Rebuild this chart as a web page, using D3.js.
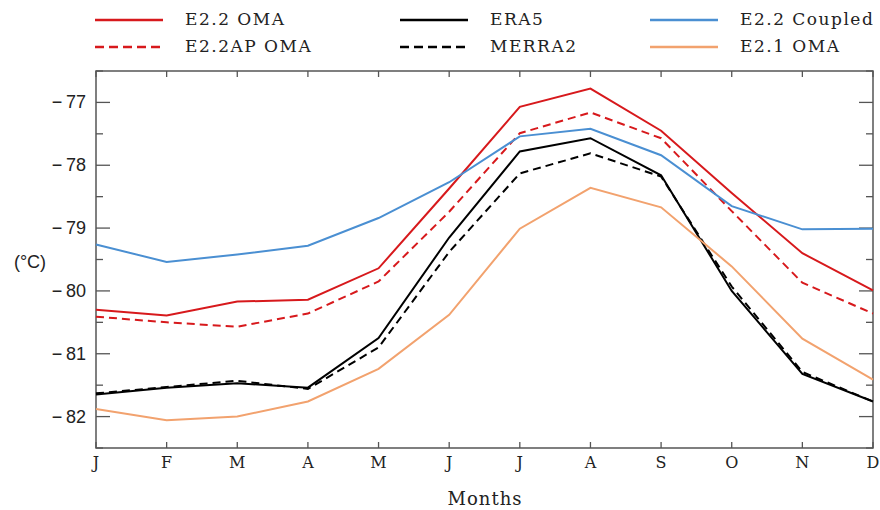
<!DOCTYPE html>
<html>
<head>
<meta charset="utf-8">
<script src="https://cdn.jsdelivr.net/npm/d3@7"></script>
<style>
  body { margin: 0; background: #fff; }
  .ser { font-family: "DejaVu Serif", serif; }
  .sans { font-family: "Liberation Sans", Arial, sans-serif; }
</style>
</head>
<body>
<svg id="chart" width="880" height="510"></svg>
<script>
var months = ['J', 'F', 'M', 'A', 'M', 'J', 'J', 'A', 'S', 'O', 'N', 'D'];
var yTicks = [-82, -81, -80, -79, -78, -77];

var e22oma     = [-80.30, -80.39, -80.17, -80.14, -79.64, -78.37, -77.07, -76.78, -77.45, -78.44, -79.40, -79.99];
var e22apoma   = [-80.41, -80.50, -80.57, -80.36, -79.85, -78.74, -77.49, -77.16, -77.57, -78.73, -79.87, -80.36];
var era5       = [-81.65, -81.54, -81.47, -81.54, -80.75, -79.15, -77.78, -77.57, -78.16, -80.00, -81.32, -81.76];
var merra2     = [-81.63, -81.53, -81.43, -81.56, -80.90, -79.38, -78.13, -77.81, -78.18, -79.93, -81.29, -81.76];
var e22coupled = [-79.26, -79.54, -79.42, -79.28, -78.84, -78.27, -77.54, -77.42, -77.84, -78.65, -79.02, -79.01];
var e21oma     = [-81.88, -82.06, -82.00, -81.76, -81.24, -80.38, -79.01, -78.36, -78.67, -79.61, -80.76, -81.41];

var series = [
    {name: 'E2.2 OMA',     values: e22oma,     color: '#d7191c', dash: null, col: 0, row: 0},
    {name: 'E2.2AP OMA',   values: e22apoma,   color: '#d7191c', dash: '8,5', col: 0, row: 1},
    {name: 'ERA5',         values: era5,       color: '#000000', dash: null, col: 1, row: 0},
    {name: 'MERRA2',       values: merra2,     color: '#000000', dash: '8,5', col: 1, row: 1},
    {name: 'E2.2 Coupled', values: e22coupled, color: '#4a8fd2', dash: null, col: 2, row: 0},
    {name: 'E2.1 OMA',     values: e21oma,     color: '#f2a26e', dash: null, col: 2, row: 1}
];

var margin = {top: 71, right: 7, bottom: 62, left: 96},
    width = 880 - margin.left - margin.right,
    height = 510 - margin.top - margin.bottom;

var svg = d3.select('#chart');
var g = svg.append('g').attr('transform', 'translate(' + margin.left + ',' + margin.top + ')');

var x = d3.scaleLinear().domain([0, 11]).range([0, width]);
var y = d3.scaleLinear().domain([-82.5, -76.5]).range([height, 0]);

var axisColor = '#555';

// frame
g.append('rect')
    .attr('width', width).attr('height', height)
    .attr('fill', 'none').attr('stroke', axisColor).attr('stroke-width', 1.5);

// ticks inside the frame
var minor = d3.range(-82.5, -76.49, 0.5);
g.selectAll('.ytl').data(minor).enter().append('line')
    .attr('x1', 0).attr('x2', function(d) { return Number.isInteger(d) ? 14 : 7; })
    .attr('y1', y).attr('y2', y)
    .attr('stroke', axisColor).attr('stroke-width', 1.3);
g.selectAll('.ytr').data(minor).enter().append('line')
    .attr('x1', width).attr('x2', function(d) { return width - (Number.isInteger(d) ? 14 : 7); })
    .attr('y1', y).attr('y2', y)
    .attr('stroke', axisColor).attr('stroke-width', 1.3);
g.selectAll('.xtb').data(d3.range(12)).enter().append('line')
    .attr('x1', x).attr('x2', x)
    .attr('y1', height).attr('y2', height - 6)
    .attr('stroke', axisColor).attr('stroke-width', 1.3);
g.selectAll('.xtt').data(d3.range(12)).enter().append('line')
    .attr('x1', x).attr('x2', x)
    .attr('y1', 0).attr('y2', 6)
    .attr('stroke', axisColor).attr('stroke-width', 1.3);

// tick labels
g.selectAll('.yl').data(yTicks).enter().append('text')
    .attr('class', 'sans')
    .attr('x', -10).attr('y', function(d) { return y(d) + 6; })
    .attr('text-anchor', 'end').attr('font-size', 18).attr('fill', '#222')
    .text(function(d) { return '\u2212\u2009' + Math.abs(d); });

g.selectAll('.xl').data(months).enter().append('text')
    .attr('class', 'ser')
    .attr('x', function(d, i) { return x(i); }).attr('y', height + 20)
    .attr('text-anchor', 'middle').attr('font-size', 16).attr('fill', '#222')
    .text(function(d) { return d; });

svg.append('text').attr('class', 'sans')
    .attr('x', 30).attr('y', 268).attr('text-anchor', 'middle')
    .attr('font-size', 18).attr('fill', '#222')
    .text('(\u00B0C)');

svg.append('text').attr('class', 'ser')
    .attr('x', 485).attr('y', 505).attr('text-anchor', 'middle')
    .attr('font-size', 18).attr('fill', '#222')
    .attr('letter-spacing', 1)
    .text('Months');

// lines
var line = d3.line()
    .x(function(d, i) { return x(i); })
    .y(function(d) { return y(d); });

g.selectAll('.series').data(series).enter().append('path')
    .attr('d', function(d) { return line(d.values); })
    .attr('fill', 'none')
    .attr('stroke', function(d) { return d.color; })
    .attr('stroke-width', 2)
    .attr('stroke-dasharray', function(d) { return d.dash; });

// legend
var colX = [95, 400, 650], rowY = [20, 47];
var leg = svg.selectAll('.leg').data(series).enter().append('g')
    .attr('transform', function(d) { return 'translate(' + colX[d.col] + ',' + rowY[d.row] + ')'; });
leg.append('line')
    .attr('x1', 0).attr('x2', 68).attr('y1', 0).attr('y2', 0)
    .attr('stroke', function(d) { return d.color; })
    .attr('stroke-width', 2.5)
    .attr('stroke-dasharray', function(d) { return d.dash ? '9,5' : null; });
leg.append('text').attr('class', 'ser')
    .attr('x', 90).attr('y', 5)
    .attr('font-size', 17).attr('fill', '#222')
    .attr('letter-spacing', 1.5)
    .text(function(d) { return d.name; });
</script>
</body>
</html>
